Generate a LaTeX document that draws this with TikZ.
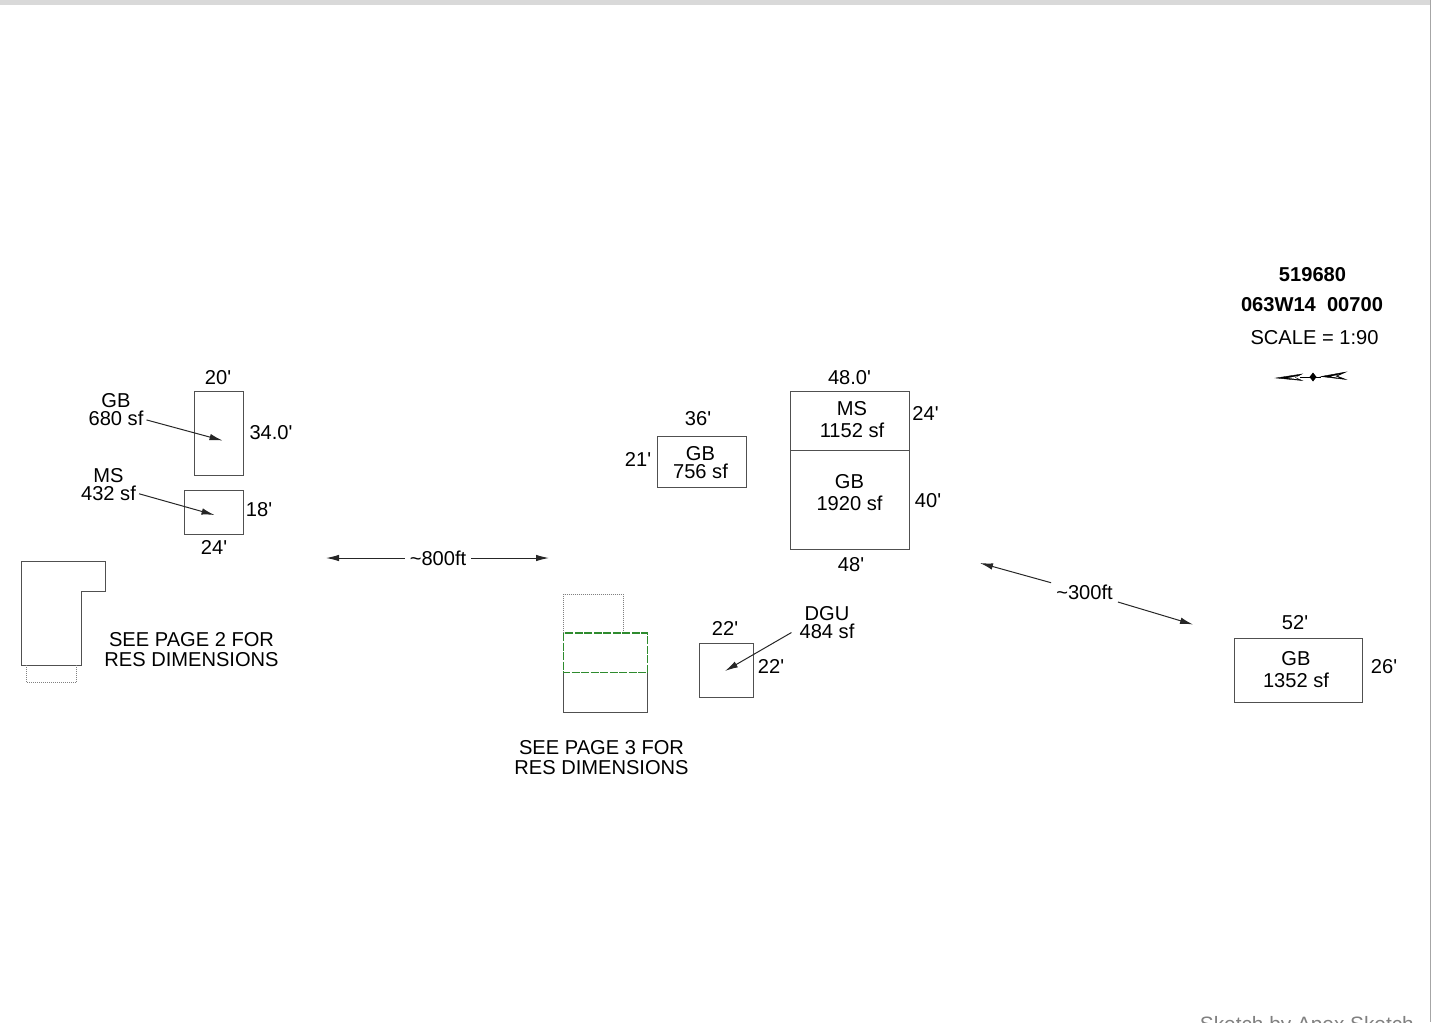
\documentclass[tikz,border=0pt]{standalone}
\usepackage{fontspec}
\setmainfont[Ligatures=TeXOff]{Liberation Sans}
\usetikzlibrary{positioning,arrows.meta}
\definecolor{planline}{HTML}{505050}
\definecolor{addgreen}{HTML}{2E8B2E}
\tikzstyle{room} = [rectangle, draw=planline, line width=1pt, inner sep=0pt, outer sep=0pt]
\tikzstyle{dim} = [inner sep=0pt, yshift=-1pt, font=\fontsize{20.1}{20}\selectfont]
\tikzstyle{tag} = [inner sep=3pt, yshift=-1pt, align=center, font=\fontsize{20.1}{18}\selectfont]
\tikzstyle{tagwide} = [inner sep=0pt, yshift=-1pt, align=center, font=\fontsize{20.1}{22}\selectfont]
\tikzstyle{note} = [inner sep=0pt, yshift=-1pt, align=center, font=\fontsize{20.1}{20}\selectfont]
\tikzstyle{title} = [inner sep=0pt, yshift=-1pt, font=\fontsize{20.1}{20}\selectfont\bfseries]
\tikzstyle{connect} = [line width=1pt, black!85, -{Latex[length=13pt,width=6.5pt]}]
\tikzstyle{plan} = [draw=planline, line width=1pt]
\tikzstyle{planhidden} = [draw=gray, line width=1pt, densely dotted]
\begin{document}
\begin{tikzpicture}[x=1pt,y=-1pt]
	\useasboundingbox (0,0) rectangle (1431,1022);
	\fill [gray!30] (0,0) rectangle (1431,5);
	\draw [gray!70, line width=1.5pt] (1430.5,0) -- (1430.5,1022);

	% far left buildings
	\node (gbleft) [room, minimum width=49pt, minimum height=84pt] at (218.5,433) {};
	\node (msleft) [room, minimum width=59pt, minimum height=44pt] at (213.5,512) {};
	\node (gbleftw) [dim] at (218,377) {20'};
	\node (gblefth) [dim] at (271,432) {34.0'};
	\node (mslefth) [dim] at (259,509) {18'};
	\node (msleftw) [dim] at (214,546) {24'};
	\node (gblefttag) [tag] at (116,409) {GB\\680 sf};
	\node (mslefttag) [tag] at (108.5,484) {MS\\432 sf};
	\coordinate (gbleftpt) at (222.5,440.5);
	\coordinate (msleftpt) at (214.5,515);
	\draw [connect] (gblefttag.-18) -- (gbleftpt);
	\draw [connect] (mslefttag.-16) -- (msleftpt);

	% first residence
	\draw [plan] (21.5,561.5) -- (105.5,561.5) -- (105.5,591.5) -- (81,591.5) -- (81,665) -- (21.5,665) -- cycle;
	\draw [planhidden] (26.5,665) -- (26.5,682.5) -- (76.5,682.5) -- (76.5,665);
	\node (seetwo) [note] at (191.5,649) {SEE PAGE 2 FOR\\RES DIMENSIONS};

	% distance between the sites
	\node (farleft) [dim, inner sep=5pt, yshift=1pt] at (438,558) {\textasciitilde800ft};
	\coordinate (farleftw) at (326,558);
	\coordinate (farlefte) at (549,558);
	\draw [connect] (farleft) -- (farleftw);
	\draw [connect] (farleft) -- (farlefte);

	% second residence
	\draw [planhidden] (563.5,633) -- (563.5,594) -- (623,594) -- (623,633);
	\draw [plan] (563.5,672.5) -- (563.5,712) -- (647.5,712) -- (647.5,672.5);
	\draw [addgreen, line width=1.6pt, dash pattern=on 8pt off 1.5pt] (563.5,633) rectangle (647.5,672.5);
	\node (seethree) [note] at (601.5,757) {SEE PAGE 3 FOR\\RES DIMENSIONS};

	% middle buildings
	\node (gbmid) [room, minimum width=89pt, minimum height=51pt] at (701.5,461.5) {};
	\node (gbmidtag) [tag] at (700.5,462) {GB\\756 sf};
	\node (gbmidw) [dim] at (698,418) {36'};
	\node (gbmidh) [dim] at (638,458) {21'};
	\node (msmain) [room, minimum width=119pt, minimum height=59pt] at (849.5,420.5) {};
	\node (gbmain) [room, minimum width=119pt, minimum height=99pt, below=0pt of msmain] {};
	\node (msmaintag) [tagwide] at (852,419) {MS\\1152 sf};
	\node (gbmaintag) [tagwide] at (849.5,492) {GB\\1920 sf};
	\node (msmainw) [dim] at (849.5,377) {48.0'};
	\node (msmainh) [dim] at (925.5,412) {24'};
	\node (gbmainh) [dim] at (928,500) {40'};
	\node (gbmainw) [dim] at (851,564) {48'};

	% detached garage
	\node (dgu) [room, minimum width=54pt, minimum height=54pt] at (726,670) {};
	\node (dguw) [dim] at (725,627) {22'};
	\node (dguh) [dim] at (771,665) {22'};
	\node (dgutag) [tag, inner sep=8pt] at (827,622) {DGU\\484 sf};
	\coordinate (dgupt) at (725,671);
	\draw [connect] (dgutag.195) -- (dgupt);

	% far right building
	\node (farright) [dim, inner sep=5pt] at (1084.5,591) {\textasciitilde300ft};
	\coordinate (farrightw) at (980,563);
	\coordinate (farrighte) at (1193,624.5);
	\draw [connect] (farright) -- (farrightw);
	\draw [connect] (farright) -- (farrighte);
	\node (gbright) [room, minimum width=128pt, minimum height=64pt] at (1298,670) {};
	\node (gbrighttag) [tagwide] at (1296,669) {GB\\1352 sf};
	\node (gbrightw) [dim] at (1295,622) {52'};
	\node (gbrighth) [dim] at (1384,666) {26'};

	% title block
	\node (parcel) [title] at (1312.5,274) {519680};
	\node (lot) [title] at (1312,304) {063W14\ \ 00700};
	\node (scale) [dim] at (1314.5,337) {SCALE = 1:90};

	% north arrow
	\draw [black, line width=.8pt] (1300,377) -- (1321,377);
	\filldraw [black] (1276,378) -- (1302,374) -- (1295,377.5) -- (1302,380.5) -- cycle;
	\fill [white] (1288,378) -- (1298,376) -- (1294.5,377.5) -- (1298,379.2) -- cycle;
	\fill [black] (1313,372.5) -- (1316.5,377) -- (1313,381.5) -- (1309.5,377) -- cycle;
	\filldraw [black] (1321,376.5) -- (1346,372) -- (1337,376) -- (1346,379.5) -- cycle;
	\fill [white] (1331,376.5) -- (1339,374.5) -- (1335,376) -- (1339,378) -- cycle;

	% footer cut by the page edge
	\node (footer) [inner sep=0pt, text=gray, anchor=base east, font=\fontsize{20.8}{20}\selectfont] at (1414,1031) {Sketch by Apex Sketch};
\end{tikzpicture}
\end{document}
